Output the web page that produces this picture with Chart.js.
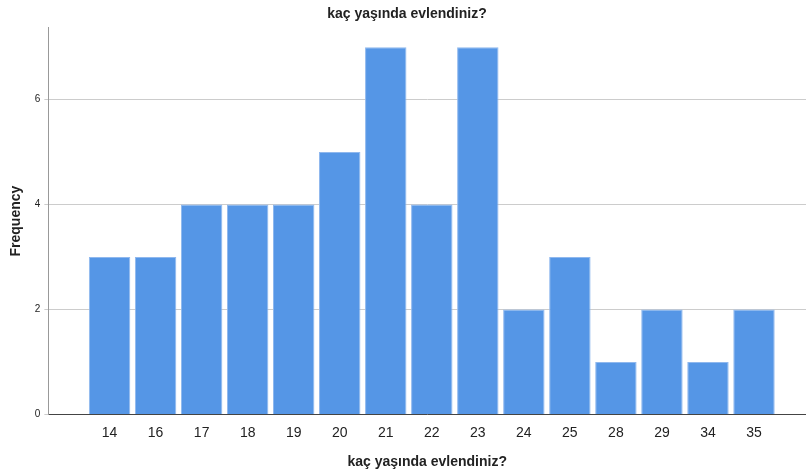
<!DOCTYPE html>
<html>
<head>
<meta charset="utf-8">
<script src="https://cdn.jsdelivr.net/npm/chart.js@4/dist/chart.umd.min.js"></script>
<style>
  html, body { margin: 0; padding: 0; background: #fff; }
  #wrap { width: 806px; height: 474px; }
</style>
</head>
<body>
<div id="wrap"><canvas id="chart"></canvas></div>
<script>
// данные
const ages = ['14', '16', '17', '18', '19', '20', '21', '22', '23', '24', '25', '28', '29', '34', '35'];
const counts = [3, 3, 4, 4, 4, 5, 7, 4, 7, 2, 3, 1, 2, 1, 2];
const yTicks = [0, 2, 4, 6];

const titleText = 'kaç yaşında evlendiniz?';

new Chart(document.getElementById('chart'), {
  type: 'bar',
  data: {
    datasets: [{
      data: counts.map((c, i) => ({ x: i, y: c })),
      backgroundColor: '#5596e6',
      borderColor: '#8fb8ee',
      borderWidth: 1,
      barPercentage: 0.9,
      categoryPercentage: 1,
    }],
  },
  options: {
    responsive: true,
    maintainAspectRatio: false,
    animation: false,
    layout: { padding: { left: 8, right: 0, top: 0, bottom: 3 } },
    plugins: {
      legend: { display: false },
      tooltip: { enabled: false },
      title: {
        display: true,
        text: titleText,
        color: '#222',
        font: { family: 'Liberation Sans', size: 14, weight: 'bold' },
        padding: { top: 6, bottom: 5 },
      },
    },
    scales: {
      x: {
        type: 'linear',
        offset: false,
        min: -1.33,
        max: 15.13,
        afterBuildTicks: scale => { scale.ticks = ages.map((_, i) => ({ value: i })); },
        ticks: {
          autoSkip: false,
          maxRotation: 0,
          color: '#222',
          font: { family: 'Liberation Sans', size: 14 },
          padding: 10,
          callback: v => ages[v],
        },
        grid: { display: false, drawTicks: false },
        border: { color: '#444', width: 1 },
        title: {
          display: true,
          text: titleText,
          color: '#222',
          font: { family: 'Liberation Sans', size: 14, weight: 'bold' },
          padding: { top: 3, bottom: 0 },
        },
      },
      y: {
        min: 0,
        max: 7.37,
        afterBuildTicks: scale => { scale.ticks = yTicks.map(v => ({ value: v })); },
        ticks: {
          color: '#222',
          font: { family: 'Liberation Sans', size: 10 },
          padding: 4,
        },
        grid: { color: '#cccccc', drawTicks: true, tickLength: 4 },
        border: { color: '#999', width: 1 },
        title: {
          display: true,
          text: 'Frequency',
          color: '#222',
          font: { family: 'Liberation Sans', size: 14, weight: 'bold' },
          padding: { top: 0, bottom: 6 },
        },
      },
    },
  },
});
</script>
</body>
</html>
